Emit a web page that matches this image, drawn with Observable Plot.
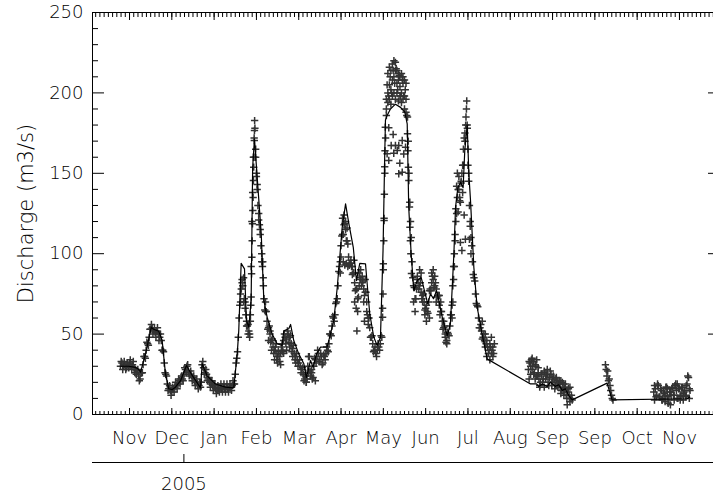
<!DOCTYPE html>
<html><head><meta charset="utf-8">
<script src="https://cdn.jsdelivr.net/npm/d3@7"></script>
<script src="https://cdn.jsdelivr.net/npm/@observablehq/plot@0.6"></script>
<style>
html,body{margin:0;padding:0;background:#fff;overflow:hidden;}
</style>
</head><body><div id="chart"></div>
<script>
// x values are days since 2004-11-26 (first labelled tick); ticks every 28 days
const monthTicks = [0,28,56,84,112,140,168,196,224,252,280,308,336,364];
const monthLabels = ["Nov","Dec","Jan","Feb","Mar","Apr","May","Jun","Jul","Aug","Sep","Sep","Oct","Nov"];
const yearTicks = [36];
const yearLabels = ["2005"];
const yMajor = [0,50,100,150,200,250];
const yMinor = [10,20,30,40,60,70,80,90,110,120,130,140,160,170,180,190,210,220,230,240];
const yTitle = "Discharge (m3/s)";

// modelled discharge (black line)
const modelDay = [-6,-0.7,3,5.5,7.3,10.6,14.4,15.9,19.4,21.6,23.8,26,28.3,30.4,33.8,37.7,41.5,47,48.1,51.4,56.9,63.5,69,71.3,72.3,73.9,76.1,77.4,79,80.5,81.5,82.7,84.5,87.2,88.9,91.1,94.4,97.7,101,102.1,105.4,106.6,108.7,112,115.4,117.1,119.8,121.5,123.8,126.4,130.8,133,135.2,137.5,140.8,143,145.2,148.1,150.2,152.4,156.2,157.3,159,161.7,163.9,166.1,167.8,168.9,169.4,170.5,172.7,176,179.4,182.2,183.8,184.8,186.4,188.2,190.4,193,195.2,197.4,199.2,201.2,203.2,204.7,207,210.3,212.4,214.7,215.8,217.3,219.1,220.8,221.9,223.5,224.6,225.7,227.9,230.1,233.4,236.7,265.4,269.4,270.9,273.1,276.4,278.6,281.9,284.1,286.4,288.5,290.7,293,316.1,319.4,369,370.8];
const modelVal = [30,30,29.5,28.5,26.3,37.7,54.3,53,51.8,46,25.3,16,15.5,17,21,30.5,24.3,16.6,31.5,24,19,17,16.6,37.7,52,94,90.6,58.5,54.3,71,153.8,171.5,147.6,112,71,60.5,50,44,43,52,53.3,56,46,37.7,31.5,23,33.6,29.4,37.7,41.9,42,50,58.5,79,116.5,131,118.6,104,83.3,94,93.7,81.3,62.6,48,42.9,48,102,160,183,186,190,193,191,188,180.8,129,100,77,83.3,85.4,77,68.8,75,72,77,71,60.5,49,56.4,100,129,141,144.5,141,164,180,149.7,133,91.6,66.7,50,34.6,19,19,17.4,19,17.4,20,17.5,18.5,15,16,11.8,9.1,19.5,9.1,9.8,10.8];

// observed discharge (grey crosses): daily readings per segment
const obs1Start = -6;
const obs1 = [30,32,30,31,29,31,32,30,31,29,
  28,27,24,22,26,31,36,40,44,48,
  53,54,52,51,52,50,48,46,40,32,
  25,19,16,15,14,16,17,18,19,21,
  22,22,25,28,30,27,25,24,23,21,
  20,19,18,17,31,29,26,25,22,20,
  19,18,17,16,15,16,17,16,17,16,
  17,16,17,17,18,19,25,35,48,68,
  78,80,72,62,55,52,58,120,160,178,
  150,130,118,105,92,72,64,58,54,50,
  46,42,40,38,36,36,38,40,46,48,
  47,50,48,44,41,38,36,34,32,30,
  28,25,22,20,30,36,24,22,30,34,
  36,38,34,36,32,36,38,40,44,50,
  55,60,62,70,80,92,105,112,118,115,
  108,98,94,92,88,82,78,72,80,84,
  82,78,76,70,60,54,48,44,40,38,
  40,42,44,48,90,150,190,200,205,202,
  208,210,214,206,208,204,200,206,198,196,
  185,150,120,95,80,72,78,82,80,76,
  74,70,66,64,70,78,82,84,80,78,
  74,68,64,58,54,50,46,50,55,62,
  80,100,120,135,140,132,150,165,175,190,
  165,130,110,95,85,75,68,60,54,52,
  48,46,44,42,40,42,40,38];
// second reading each day (half a day later)
const obs1bStart = -5.5;
const obs1b = [33,28,33,28,32,29,34,28,33,26,
  25,28,21,26,26,36,35,45,43,53,
  56,50,54,48,54,46,50,40,39,26,
  24,15,18,12,17,14,20,16,22,19,
  24,21,29,26,31,24,27,21,24,18,
  22,16,20,20,33,25,28,21,23,17,
  21,15,19,13,18,14,19,14,19,14,
  19,14,19,15,21,19,32,39,60,70,
  82,70,70,55,56,50,92,138,172,160,
  143,121,115,95,85,65,64,53,55,45,
  47,38,42,34,39,33,42,39,50,44,
  52,45,49,39,43,34,38,30,34,26,
  29,21,24,22,36,27,26,23,35,32,
  40,33,38,31,37,34,42,39,50,49,
  61,58,69,72,89,95,111,112,119,108,
  106,93,96,87,88,77,78,73,85,80,
  83,74,76,62,60,48,49,39,42,36,
  44,40,49,66,122,172,205,198,210,200,
  214,206,215,202,211,198,208,198,202,186,
  170,132,110,85,79,72,84,78,82,72,
  75,65,68,63,77,77,86,79,82,73,
  74,62,64,53,55,45,51,49,62,68,
  92,112,125,140,133,144,155,172,180,180,
  150,117,105,87,83,69,67,54,56,47,
  50,42,46,38,44,38,42];
const obs2Start = 264;
const obs2 = [28,32,34,30,26,30,24,22,20,25,22,26,24,20,23,25,22,20,18,21,19,17,15,19,16,12,14,12,10,9];
const obs2bStart = 264.5;
const obs2b = [33,30,35,25,31,24,26,18,25,20,27,22,25,18,27,20,24,16,22,17,21,13,20,14,17,10,16,8,12];
const obs3Start = 315; // half-day readings
const obs3 = [31,28,24,27,21,22,18,15,12,10,9];
const obs4Start = 347;
const obs4 = [14,16,12,18,11,15,10,13,17,11,9,14,16,12,18,15,10,16,12,17,14,11,19,23,15];
const obs4bStart = 347.5;
const obs4b = [18,11,18,11,16,9,14,12,17,7,14,12,17,12,19,10,16,11,17,13,15,12,24,16];
// additional scattered readings [day, value]
const obsExtra = [[73.5,75],[74.5,84],[75.5,85],[76.5,66],[77.5,58],[78.5,50],[79.5,48],[80,62],[80.3,68],
[80.5,73],[80.8,87.5],[81,97.8],[81.2,108],[81.4,118.6],[81.6,126.9],[81.8,135],[82,145.5],[82.2,153.8],[82.4,160],[82.6,170.4],[82.7,176.6],[82.8,182.8],
[83.5,165],[84,148],[84.5,140],[85.5,125],[86.5,112],[87.5,100],[88.2,95],[88.6,80],
[90,70],[92,46],[93,52],[94,40],[96,34],[97,44],[98,32],[100,31],[101,44],[102,38],[104,40],[106,42],[108,36],[110,32],
[116.5,26],[117,20],[123,21],[118.5,26],[120.5,28],
[139.5,88],[140,98],[141,122],[142,124],[143,120],[144,116],[141.5,95],[142.5,93],[143.5,94],[144.5,92],[145.5,93],[146.5,94],[147.5,92],[148.5,96],[149,70],[150,66],[150.5,52],[151,64],[152,88],[153,90],[154,86],[155,70],[155.5,58],[156,84],[157,64],[158,56],
[167.5,60.5],[167.8,75],[168,93.7],[168.3,108],[168.5,120.6],[168.7,137],[168.9,154],[169.1,164],[169.3,178.7],
[170,196],[170,186],[171,212],[171,194],[172,216],[172,196],[173,214],[173,193],[174,218],[174,198],[175,220],[175,200],[176,219],[176,196],[177,214],[177,200],[178,212],[178,195],[179,210],[179,198],[180,212],[180,194],[181,210],[181,196],[182,208],[182,190],[183,206],[183,188],
[171.6,178.3],[174.5,174.1],[173.2,167.3],[176,167.3],[178.2,167.3],[180.5,170.4],[170.5,162.1],[171.6,158],[174.9,162.5],[177.2,164.2],[178.9,156.3],[181.5,162],[178.2,149.7],[180.5,150.7],[182.7,166.2],
[184,174.6],[184.3,164],[184.6,153.8],[184.9,145.5],[185.3,129],[185.6,116.5],[185.9,108],[186.2,100],[186.6,87.7],
[188,70],[189,64],[190.5,86],[192,90],[193,88],[194,70],[195.5,62],[196.5,58],[198.5,60],[200,88],[201,90],[202,86],[203,70],[205,74],[206,70],[208,58],[209,48],[210,44],
[213.5,60],[214,70],[214.5,84],[215,92],[215.5,108],[216,128],[216.5,142],[217,150],[217.5,126],[218,148],[218.5,135],[219,107],[219.5,145],[220,102],[220.5,138],[221,155],[221.5,124],[222,170],[222.3,109],[222.7,185],[223.2,195],[223.6,178],[224,155],[224.5,145],[225,109],[225.5,120],[226,100],
[236.5,36],[238.5,34],[240.5,36],[241.5,44],[239.5,48],[233.5,58],[235.5,50],
[264.5,22],[265.5,25],[266.5,28],[267.5,33],[268.5,22],[269.5,34],[270.5,29],[271.5,17],[274.5,17],[276.5,28],[279.5,18],[282.5,23],[285.5,21],[287.5,12],[289.7,6],[291.5,17],[288.5,19],
[347.5,9],[349.5,19],[352.5,9],[354.5,8],[358,6],[360.5,9],[362.5,19],[364.5,9],[366.5,9],[368.5,18],[370.5,10],[356,16]];

// ---- build tables ----
const model = modelDay.map((d, i) => ({d, v: modelVal[i]}));
const obs = [];
function addSeries(start, step, values) { values.forEach((v, i) => obs.push({d: start + i * step, v})); }
addSeries(obs1Start, 1, obs1);
addSeries(obs1bStart, 1, obs1b);
addSeries(obs2Start, 1, obs2);
addSeries(obs2bStart, 1, obs2b);
addSeries(obs3Start, 0.5, obs3);
addSeries(obs4Start, 1, obs4);
addSeries(obs4bStart, 1, obs4b);
obsExtra.forEach(([d, v]) => obs.push({d, v}));

const xMinor = d3.range(-22.4, 390.5, 2.8);
const monthName = new Map(monthTicks.map((d, i) => [d, monthLabels[i]]));
const yearName = new Map(yearTicks.map((d, i) => [d, yearLabels[i]]));

const FONT = "'DejaVu Sans', 'Liberation Sans', sans-serif";
const chart = Plot.plot({
  width: 713, height: 497,
  marginLeft: 92, marginRight: -6, marginTop: 12, marginBottom: 83,
  x: {domain: [-24.5, 390.5], range: [92, 719]},
  y: {domain: [0, 250], range: [414, 12]},
  style: {fontFamily: FONT, fontSize: "18px", fontWeight: 200, color: "#000", background: "#fff", overflow: "hidden"},
  marks: [
    Plot.dot(obs, {x: "d", y: "v", symbol: "plus", r: 2.5, stroke: "#333", strokeWidth: 1.5}),
    Plot.line(model, {x: "d", y: "v", stroke: "#000", strokeWidth: 1.2}),
    Plot.frame({stroke: "#000", strokeWidth: 1}),
    // left axis
    Plot.axisY(yMajor, {anchor: "left", tickSize: -12, fill: "none", label: null}),
    Plot.axisY(yMinor, {anchor: "left", tickSize: -6, fill: "none", label: null}),
    Plot.axisY(yMajor, {anchor: "left", tickSize: 0, tickPadding: 9, fontSize: 18, label: null}),
    // right axis
    Plot.axisY(yMajor, {anchor: "right", tickSize: -12, fill: "none", label: null}),
    Plot.axisY(yMinor, {anchor: "right", tickSize: -7, fill: "none", label: null}),
    // bottom axis
    Plot.axisX(monthTicks, {anchor: "bottom", tickSize: -6, fill: "none", label: null}),
    Plot.axisX(xMinor, {anchor: "bottom", tickSize: -3, fill: "none", label: null}),
    Plot.axisX(monthTicks, {anchor: "bottom", tickSize: 0, tickPadding: 17, fontSize: 18, tickFormat: d => monthName.get(d), label: null}),
    // top axis
    Plot.axisX(monthTicks, {anchor: "top", tickSize: -7, fill: "none", label: null}),
    Plot.axisX(xMinor, {anchor: "top", tickSize: -4, fill: "none", label: null}),
    // year axis
    Plot.ruleY([0], {dy: 48, stroke: "#000"}),
    Plot.axisX(yearTicks, {anchor: "bottom", tickSize: -8, dy: 48, fill: "none", label: null}),
    Plot.axisX(yearTicks, {anchor: "bottom", tickSize: 0, tickPadding: 15, dy: 48, fontSize: 18, tickFormat: d => yearName.get(d), label: null}),
    // y title
    Plot.text([yTitle], {text: d => d, frameAnchor: "left", textAnchor: "middle", rotate: -90, dx: -66, fontSize: 21})
  ]
});
document.getElementById("chart").appendChild(chart);
</script>
</body></html>
